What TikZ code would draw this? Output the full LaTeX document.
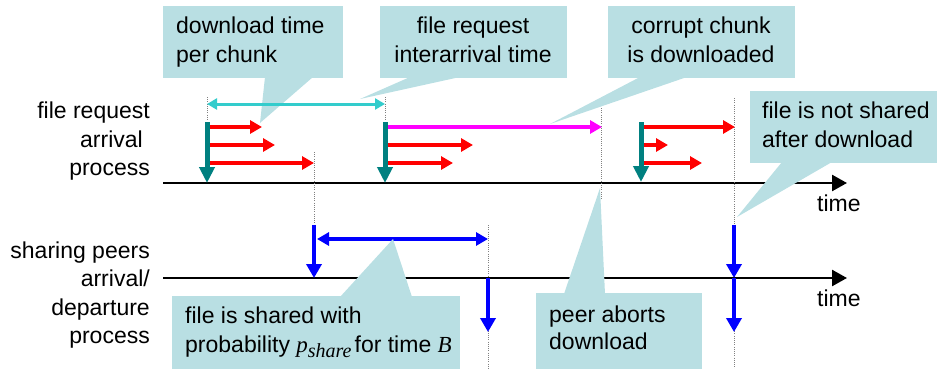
\documentclass[tikz,border=0pt]{standalone}
\usepackage{fontspec}
\setmainfont{Liberation Sans}
\newfontfamily\timesf{Liberation Serif}
\usetikzlibrary{arrows.meta}
\definecolor{calloutc}{RGB}{185,223,227}
\definecolor{tealc}{RGB}{0,128,128}
\definecolor{cyanc}{RGB}{51,204,204}
\definecolor{magc}{RGB}{255,0,255}
\tikzset{
  cbox/.style={fill=calloutc, draw=none, inner sep=0pt, anchor=north west},
  lbl/.style={inner sep=0pt},
  axisline/.style={black, line width=2.5pt, -{Triangle[length=15pt,width=16pt]}},
  tealarr/.style={tealc, line width=5pt, -{Triangle[length=16pt,width=15pt]}},
  redarr/.style={red, line width=4pt, -{Triangle[length=12pt,width=13pt]}},
  magarr/.style={magc, line width=4pt, -{Triangle[length=12pt,width=13pt]}},
  bluearr/.style={blue, line width=4.5pt, -{Triangle[length=14pt,width=15pt]}},
  bluedbl/.style={blue, line width=4pt, {Triangle[length=12pt,width=13pt]}-{Triangle[length=12pt,width=13pt]}},
  cyandbl/.style={cyanc, line width=3pt, {Triangle[length=10pt,width=11pt]}-{Triangle[length=10pt,width=11pt]}},
  guide/.style={gray, line width=0.8pt, dash pattern=on 1pt off 1.2pt},
  ptr/.style={fill=calloutc, draw=none}
}
\begin{document}
\begin{tikzpicture}[x=1pt,y=-1pt, font=\fontsize{23}{28}\selectfont]
\useasboundingbox (0,0) rectangle (939,369);

% axes
\draw[axisline] (163,183) -- (847,183);
\draw[axisline] (163,278) -- (847,278);
\node[lbl, anchor=base west] (time1) at (817,211) {time};
\node[lbl, anchor=base west] (time2) at (817,306) {time};

% left labels
\node[lbl, anchor=base east] (l1) at (150,118) {file request};
\node[lbl, anchor=base east] (l2) at (143,147) {arrival};
\node[lbl, anchor=base east] (l3) at (150,175) {process};
\node[lbl, anchor=base east] (l4) at (150,258) {sharing peers};
\node[lbl, anchor=base east] (l5) at (150,286) {arrival/};
\node[lbl, anchor=base east] (l6) at (150,315) {departure};
\node[lbl, anchor=base east] (l7) at (150,343) {process};

% guide lines
\draw[guide] (207,97) -- (207,121);
\draw[guide] (385,97) -- (385,121);
\draw[guide] (314,152) -- (314,226);
\draw[guide] (601,108) -- (601,200);
\draw[guide] (734,98) -- (734,369);
\draw[guide] (488,225) -- (488,369);

% callout 1 (below cyan arrow)
\node[cbox, minimum width=180pt, minimum height=72pt] (b1) at (163,6) {};
\fill[ptr] (265,77) -- (260,123) -- (313,77) -- cycle;

% cyan interarrival
\draw[cyandbl] (207,104) -- (385,104);

% red chunk arrows
\draw[redarr] (207,127) -- (262,127);
\draw[redarr] (207,145) -- (275,145);
\draw[redarr] (207,163) -- (314,163);
\draw[magarr] (385,127) -- (602,127);
\draw[redarr] (385,145) -- (473,145);
\draw[redarr] (385,163) -- (453,163);
\draw[redarr] (641,127) -- (735,127);
\draw[redarr] (641,145) -- (668,145);
\draw[redarr] (641,163) -- (702,163);

% teal arrival arrows
\draw[tealarr] (207,122) -- (207,183);
\draw[tealarr] (385,122) -- (385,183);
\draw[tealarr] (641,122) -- (641,182);

% blue sharing arrows
\draw[bluearr] (314,225) -- (314,278);
\draw[bluedbl] (317,239) -- (488,239);
\draw[bluearr] (488,278) -- (488,332);
\draw[bluearr] (734,225) -- (734,278);
\draw[bluearr] (734,278) -- (734,332);

% callout 2
\node[cbox, minimum width=187pt, minimum height=72pt] (b2) at (380,6) {};
\fill[ptr] (410,77) -- (360,99) -- (460,77) -- cycle;
% callout 3
\node[cbox, minimum width=187pt, minimum height=72pt] (b3) at (608,6) {};
\fill[ptr] (640,77) -- (550,124) -- (687,77) -- cycle;
% callout 4
\node[cbox, minimum width=187pt, minimum height=72pt] (b4) at (750,91) {};
\fill[ptr] (782,162) -- (737,217) -- (832,162) -- cycle;
% callout 5
\node[cbox, minimum width=288pt, minimum height=74pt] (b5) at (172,296) {};
\fill[ptr] (340,297) -- (393,239) -- (412,297) -- cycle;
% callout 6
\node[cbox, minimum width=166pt, minimum height=77pt] (b6) at (536,293) {};
\fill[ptr] (564,294) -- (600,188) -- (605,294) -- cycle;

% callout texts
\node[lbl, anchor=base west] (t1a) at (176,34) {download time};
\node[lbl, anchor=base west] (t1b) at (176,63) {per chunk};
\node[lbl, anchor=base] (t2a) at (473,34) {file request};
\node[lbl, anchor=base] (t2b) at (473,63) {interarrival time};
\node[lbl, anchor=base] (t3a) at (701,34) {corrupt chunk};
\node[lbl, anchor=base] (t3b) at (701,63) {is downloaded};
\node[lbl, anchor=base west] (t4a) at (762,118) {file is not shared};
\node[lbl, anchor=base west] (t4b) at (762,147) {after download};
\node[lbl, anchor=base west] (t5a) at (185,323) {file is shared with};
\node[lbl, anchor=base west] (t5b) at (185,352) {probability {\timesf\itshape p\raisebox{-5pt}{\fontsize{20}{20}\selectfont share}}\hspace{3pt}for time {\timesf\itshape B}};
\node[lbl, anchor=base west] (t6a) at (549,322) {peer aborts};
\node[lbl, anchor=base west] (t6b) at (549,349) {download};
\end{tikzpicture}
\end{document}
